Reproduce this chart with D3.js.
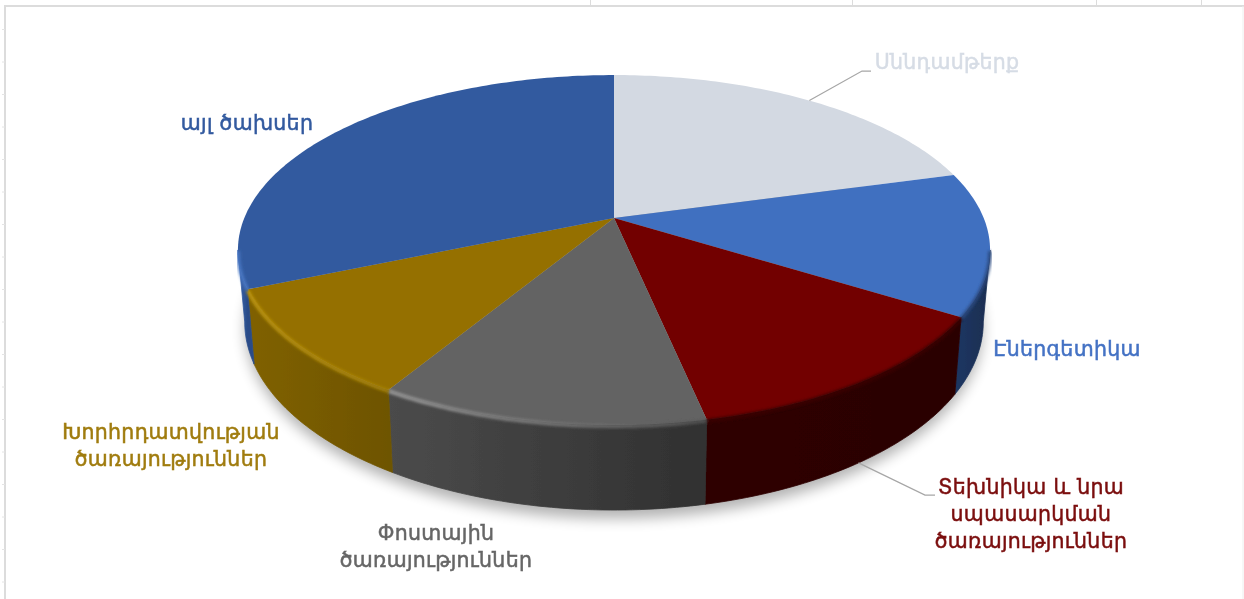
<!DOCTYPE html>
<html>
<head>
<meta charset="utf-8">
<script src="https://cdn.jsdelivr.net/npm/d3@7"></script>
<style>
  html, body { margin: 0; padding: 0; background: #fff; overflow: hidden; }
  text { font-family: "DejaVu Sans", sans-serif; font-size: 20.5px; font-weight: 400; letter-spacing: 0.3px; text-anchor: middle; }
</style>
</head>
<body>
<script>
var categories = ["Սննդամթերք", "Էներգետիկա", "Տեխնիկա և նրա սպասարկման ծառայություններ", "Փոստային ծառայություններ", "Խորհրդատվության ծառայություններ", "այլ ծախսեր"];
var values = [20.7, 13.2, 12.8, 11.9, 10.0, 31.4];
var labelLines = [["Սննդամթերք"], ["Էներգետիկա"], ["Տեխնիկա և նրա", "սպասարկման", "ծառայություններ"], ["Փոստային", "ծառայություններ"], ["Խորհրդատվության", "ծառայություններ"], ["այլ ծախսեր"]];

var topColors = ["#d3d9e2", "#4070c0", "#720000", "#636363", "#957000", "#325a9f"];
var sideLeft = ["#8f949c", "#1c3560", "#2e0000", "#4b4b4b", "#806100", "#3a66b0"];
var sideRight = ["#8f949c", "#1a2d50", "#2b0000", "#303030", "#6e5400", "#2a4c88"];
var rimLeft = ["#e0e4ea", "#2a4a80", "#3a0000", "#a0a0a0", "#c09810", "#4a78c4"];
var rimRight = ["#e0e4ea", "#2a4a80", "#3a0000", "#555555", "#a88408", "#4a78c4"];
var labelColors = ["#d6dce5", "#4472c4", "#7b1010", "#666666", "#a07c10", "#325a9f"];

var width = 1244, height = 599;
var cx = 614, cy = 218;       // apex of the pie on the page
var R = 369.7, S = 169.1;     // disc radii before perspective
var k = 0.183, depth = 69.5;  // perspective strength, wall height
var shrink = 0.018;           // base of the pie is a bit narrower than its top

// labels: centre x, first baseline y
var labelPos = [[947, 69], [1067, 356], [1031, 494], [436, 540], [171, 439], [247, 130]];
var lineGap = 27;

function project(a, h) {
  var u = Math.sin(a), v = -Math.cos(a), w = 1 - k * v;
  return [cx + (1 - shrink * h / depth) * R * u / w, cy + (S * v + h) / w];
}

function arcPoints(a0, a1, h) {
  var n = Math.max(2, Math.ceil((a1 - a0) * 60));
  return d3.range(n + 1).map(function(i) { return project(a0 + (a1 - a0) * i / n, h); });
}

var line = d3.line();

var svg = d3.select("body").append("svg")
  .attr("width", width)
  .attr("height", height)
  .style("display", "block");

var defs = svg.append("defs");
defs.append("filter").attr("id", "shadow")
  .attr("x", "-10%").attr("y", "-10%").attr("width", "120%").attr("height", "125%")
  .append("feGaussianBlur").attr("stdDeviation", 7);
defs.append("filter").attr("id", "rimBlur")
  .attr("x", "-5%").attr("y", "-50%").attr("width", "110%").attr("height", "200%")
  .append("feGaussianBlur").attr("stdDeviation", 1.6);
defs.append("filter").attr("id", "soft")
  .append("feGaussianBlur").attr("stdDeviation", 0.5);

function hGradient(id, xs, from, to) {
  var grad = defs.append("linearGradient").attr("id", id)
    .attr("gradientUnits", "userSpaceOnUse")
    .attr("x1", d3.min(xs)).attr("x2", d3.max(xs)).attr("y1", 0).attr("y2", 0);
  grad.append("stop").attr("offset", 0).attr("stop-color", from);
  grad.append("stop").attr("offset", 1).attr("stop-color", to);
  return "url(#" + id + ")";
}

// sheet frame behind the chart
var frame = svg.append("g").attr("stroke", "#dcdcdc").attr("fill", "none");
frame.append("path").attr("stroke-width", 2).attr("d", "M5,600V6H1244");
frame.append("path").attr("stroke", "#eeeeee").attr("d", "M1243,6V600");
[590, 852, 1096, 1201].forEach(function(x) {
  frame.append("line").attr("x1", x + 0.5).attr("x2", x + 0.5).attr("y1", 0).attr("y2", 6);
});
d3.range(29.5, 599, 32.5).forEach(function(y) {
  frame.append("line").attr("x1", 2).attr("x2", 5).attr("y1", y).attr("y2", y).attr("stroke", "#e4e4e4");
});

var arcs = d3.pie().sort(null).startAngle(0).endAngle(2 * Math.PI)(values);

// ground shadow
svg.append("path")
  .attr("d", line(arcPoints(0, 2 * Math.PI, depth + 7)) + "Z")
  .attr("fill", "#000")
  .attr("opacity", 0.3)
  .attr("filter", "url(#shadow)");

var chart = svg.append("g").attr("filter", "url(#soft)");

// walls, only the part of the rim that faces the viewer
var visStart = Math.acos(-k), visEnd = 2 * Math.PI - visStart;
var walls = [];

arcs.forEach(function(d, i) {
  var a0 = Math.max(d.startAngle, visStart), a1 = Math.min(d.endAngle, visEnd);
  if (a1 <= a0) return;
  var upper = arcPoints(a0, a1, 0), lower = arcPoints(a0, a1, depth);
  var xs = upper.map(function(p) { return p[0]; });
  var fill = hGradient("wall" + i, xs, sideLeft[i], sideRight[i]);
  chart.append("path")
    .attr("d", line(upper.concat(lower.reverse())) + "Z")
    .attr("fill", fill)
    .attr("stroke", fill)
    .attr("stroke-width", 0.8);
  walls.push({ i: i, a0: a0, a1: a1, xs: xs });
});

// top face
chart.selectAll(".slice")
  .data(arcs)
  .enter().append("path")
  .attr("class", "slice")
  .attr("d", function(d) {
    return line([[cx, cy]].concat(arcPoints(d.startAngle, d.endAngle, 0))) + "Z";
  })
  .attr("fill", function(d, i) { return topColors[i]; });

// lit rim along the edge of the top face
walls.forEach(function(d) {
  chart.append("path")
    .attr("d", line(arcPoints(d.a0, d.a1, 1)))
    .attr("fill", "none")
    .attr("stroke", hGradient("rim" + d.i, d.xs, rimLeft[d.i], rimRight[d.i]))
    .attr("stroke-width", 3.5)
    .attr("filter", "url(#rimBlur)");
});

// leader lines for the two labels set away from their slices
function midAngle(d) { return (d.startAngle + d.endAngle) / 2; }

var leaders = [
  { slice: 0, h: 0, elbow: [862, 71], end: [871, 71] },
  { slice: 2, h: depth, elbow: [925, 495], end: [935, 495] }
];
chart.selectAll(".leader")
  .data(leaders)
  .enter().append("path")
  .attr("class", "leader")
  .attr("d", function(d) {
    return line([project(midAngle(arcs[d.slice]), d.h), d.elbow, d.end]);
  })
  .attr("fill", "none")
  .attr("stroke", "#a6a6a6")
  .attr("stroke-width", 1.25);

// labels
var labels = svg.append("g").attr("filter", "url(#soft)").selectAll(".label")
  .data(categories)
  .enter().append("text")
  .attr("class", "label")
  .attr("fill", function(d, i) { return labelColors[i]; })
  .attr("stroke", function(d, i) { return labelColors[i]; })
  .attr("stroke-width", 0.5);

labels.each(function(d, i) {
  d3.select(this).selectAll("tspan")
    .data(labelLines[i])
    .enter().append("tspan")
    .attr("x", labelPos[i][0])
    .attr("y", function(t, j) { return labelPos[i][1] + j * lineGap; })
    .text(function(t) { return t; });
});
</script>
</body>
</html>
